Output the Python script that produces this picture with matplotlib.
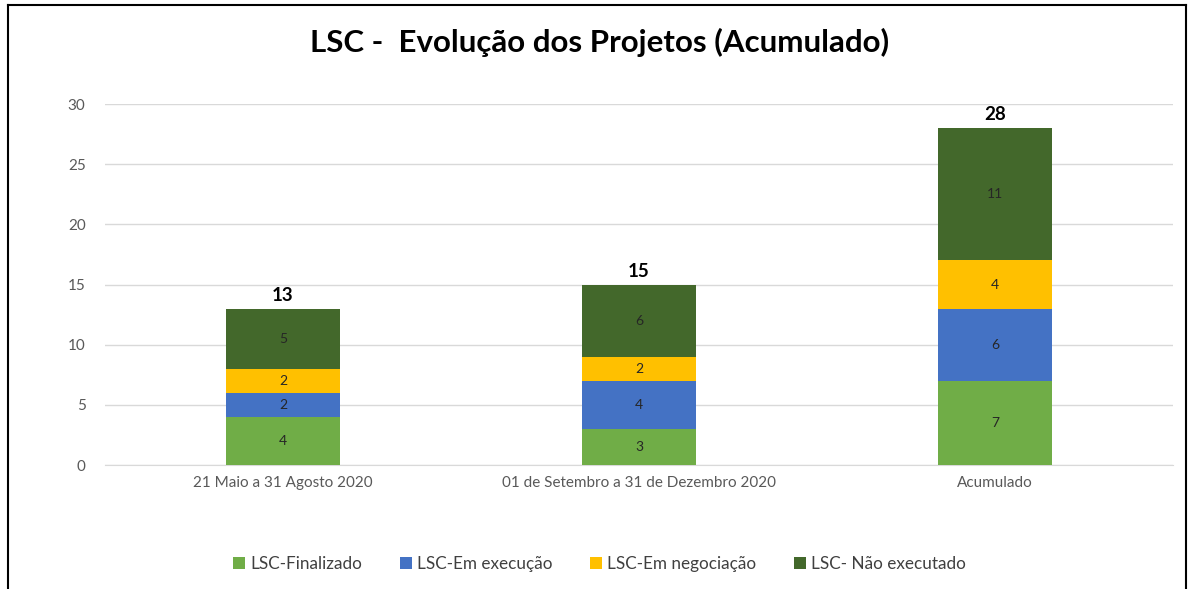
import numpy as np
import matplotlib.pyplot as plt
from matplotlib.lines import Line2D
from matplotlib.patches import Patch

plt.rcParams['font.family'] = ['Lato', 'DejaVu Sans']

# dados
periodos = ['21 Maio a 31 Agosto 2020', '01 de Setembro a 31 de Dezembro 2020', 'Acumulado']
finalizado = [4, 3, 7]
em_execucao = [2, 4, 6]
em_negociacao = [2, 2, 4]
nao_executado = [5, 6, 11]
series = ['LSC-Finalizado', 'LSC-Em execução', 'LSC-Em negociação', 'LSC- Não executado']
cores = ['#70AD47', '#4472C4', '#FFC000', '#43682B']

fig = plt.figure(figsize=(11.92, 5.89), dpi=100)
ax = fig.add_axes([0.0881, 0.2105, 0.8960, 0.6129])

x = np.arange(len(periodos))
base = np.zeros(len(periodos))
for vals, cor in zip([finalizado, em_execucao, em_negociacao, nao_executado], cores):
    vals = np.array(vals)
    barras = ax.bar(x, vals, 0.32, bottom=base, color=cor, zorder=3)
    for b, v, y0 in zip(barras, vals, base):
        ax.text(b.get_x() + b.get_width() / 2, y0 + v / 2, str(v),
                ha='center', va='center', fontsize=10, color='#262626', zorder=4)
    base = base + vals

for xi, tot in zip(x, base):
    ax.text(xi, tot + 0.4, str(int(tot)), ha='center', va='bottom',
            fontsize=13.5, fontweight='bold', color='black')

ax.set_xlim(-0.5, 2.5)
ax.set_ylim(0, 30)
ax.set_yticks(range(0, 31, 5))
ax.set_xticks(x)
ax.set_xticklabels(periodos)
ax.tick_params(axis='both', length=0, labelsize=11, labelcolor='#595959')
ax.tick_params(axis='y', pad=14)
ax.tick_params(axis='x', pad=8)
ax.grid(axis='y', color='#D9D9D9', lw=1, zorder=0)
for s in ['top', 'right', 'left']:
    ax.spines[s].set_visible(False)
ax.spines['bottom'].set_color('#D9D9D9')

fig.text(0.503, 0.928, 'LSC -  Evolução dos Projetos (Acumulado)', ha='center', va='center',
         fontsize=22.5, fontweight='bold', color='black')

handles = [Patch(facecolor=c, label=s) for c, s in zip(cores, series)]
fig.legend(handles=handles, loc='center', bbox_to_anchor=(0.503, 0.043), ncol=4,
           frameon=False, fontsize=12.3, handlelength=0.7, handleheight=0.7,
           handletextpad=0.3, columnspacing=2.2, labelcolor='#404040')

# moldura
fig.add_artist(Line2D([0.0067, 0.0067], [0, 0.9915], color='black', lw=1.5, transform=fig.transFigure))
fig.add_artist(Line2D([0.9950, 0.9950], [0, 0.9915], color='black', lw=1.5, transform=fig.transFigure))
fig.add_artist(Line2D([0.0067, 0.9950], [0.9915, 0.9915], color='black', lw=1.5, transform=fig.transFigure))

fig.savefig('out.png', dpi=100)
